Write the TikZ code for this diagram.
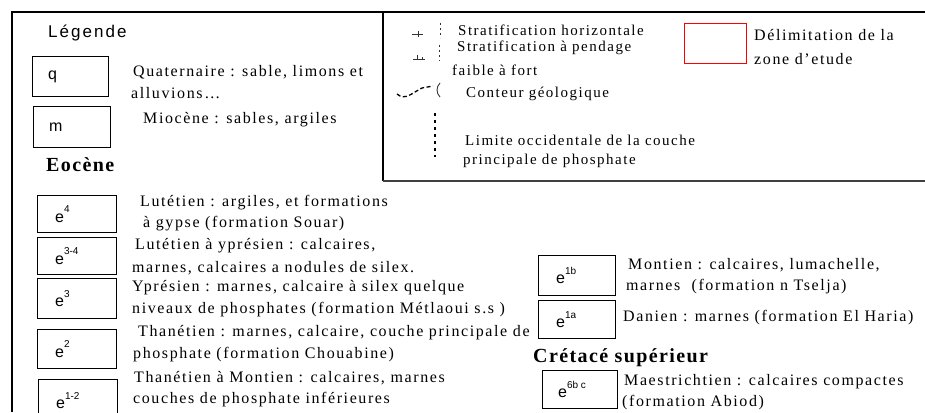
\documentclass[tikz,border=0pt]{standalone}
\usepackage{fontspec}
\setmainfont{Liberation Serif}
\newfontfamily\legserif[LetterSpace=10]{Liberation Serif}
\newfontfamily\legbold[LetterSpace=7]{Liberation Serif}
\newfontfamily\legsans[LetterSpace=12]{Liberation Sans}
\newfontfamily\boxsans{Liberation Sans}
\newcommand{\unitsup}[2]{#1\raisebox{0.6em}{\fontsize{10}{10}\selectfont #2}}
\begin{document}
\begin{tikzpicture}[x=1pt,y=-1pt,
  txt/.style={anchor=west, inner sep=0pt, font=\legserif\fontsize{16}{18}\selectfont},
  smalltxt/.style={anchor=west, inner sep=0pt, font=\legserif\fontsize{15}{17}\selectfont},
  head/.style={anchor=west, inner sep=0pt, font=\legbold\bfseries\fontsize{20}{22}\selectfont},
  unitbox/.style={draw, line width=1pt, anchor=north west, inner sep=0pt},
  unitlbl/.style={anchor=west, inner sep=0pt, font=\boxsans\fontsize{16}{17}\selectfont},
  frame/.style={line width=2pt, black},
  symb/.style={line width=0.9pt, black!80}]
\useasboundingbox (0,0) rectangle (925,412);
\fill[white] (0,0) rectangle (925,412);

% outer frame and framed symbol panel
\draw[frame] (12,412) -- (12,12) -- (925,12);
\draw[line width=1.6pt, black] (383,12) -- (383,181);
\draw[line width=2pt, black!75] (383,181) -- (925,181);

% heading and young units
\node[anchor=west, inner sep=0pt, font=\legsans\fontsize{17}{18}\selectfont] (leg) at (48,33) {Légende};

\node[unitbox, minimum width=76pt, minimum height=40pt] (bq) at (32,56) {};
\node[unitlbl] (lq) at ([xshift=16pt]bq.west) {q};
\node[txt] (tq1) at (133,72) {Quaternaire : sable, limons et};
\node[txt] (tq2) at (131,93) {alluvions…};

\node[unitbox, minimum width=77pt, minimum height=41pt] (bm) at (33,106) {};
\node[unitlbl] (lm) at ([xshift=16pt]bm.west) {m};
\node[txt] (tm) at (143,120) {Miocène : sables, argiles};

\node[head] (heo) at (46,165) {Eocène};

% Eocene units
\node[unitbox, minimum width=79pt, minimum height=37pt] (b4) at (37,195) {};
\node[unitlbl] (l4) at ([xshift=18pt]b4.west) {\unitsup{e}{4}};
\node[unitbox, minimum width=79pt, minimum height=37pt] (b34) at (37,237) {};
\node[unitlbl] (l34) at ([xshift=18pt]b34.west) {\unitsup{e}{3-4}};
\node[unitbox, minimum width=79pt, minimum height=40pt] (b3) at (37,278) {};
\node[unitlbl] (l3) at ([xshift=18pt]b3.west) {\unitsup{e}{3}};
\node[unitbox, minimum width=79pt, minimum height=39pt] (b2) at (37,329) {};
\node[unitlbl] (l2) at ([xshift=18pt]b2.west) {\unitsup{e}{2}};
\node[unitbox, minimum width=79pt, minimum height=42pt] (b12) at (38,379) {};
\node[unitlbl] (l12) at ([xshift=18pt]b12.west) {\unitsup{e}{1-2}};

\node[txt] (t41) at (140,203) {Lutétien : argiles, et formations};
\node[txt] (t42) at (143,224) {à gypse (formation Souar)};
\node[txt] (t341) at (135,246) {Lutétien à yprésien : calcaires,};
\node[txt] (t342) at (132,268) {marnes, calcaires a nodules de silex.};
\node[txt] (t31) at (132,288) {Yprésien : marnes, calcaire à silex quelque};
\node[txt] (t32) at (132,310) {niveaux de phosphates (formation Métlaoui s.s )};
\node[txt] (t21) at (138,333) {Thanétien : marnes, calcaire, couche principale de};
\node[txt] (t22) at (133,355) {phosphate (formation Chouabine)};
\node[txt] (t121) at (134,378) {Thanétien à Montien : calcaires, marnes};
\node[txt] (t122) at (133,400) {couches de phosphate inférieures};

% Paleocene and Upper Cretaceous units
\node[unitbox, minimum width=77pt, minimum height=40pt] (b1b) at (538,255) {};
\node[unitlbl] (l1b) at ([xshift=18pt]b1b.west) {\unitsup{e}{1b}};
\node[txt] (t1b1) at (628,265) {Montien : calcaires, lumachelle,};
\node[txt] (t1b2) at (626,287) {marnes \ (formation n Tselja)};

\node[unitbox, minimum width=77pt, minimum height=38pt] (b1a) at (538,300) {};
\node[unitlbl] (l1a) at ([xshift=18pt]b1a.west) {\unitsup{e}{1a}};
\node[txt] (t1a) at (623,318) {Danien : marnes (formation El Haria)};

\node[head] (hcr) at (533,358) {Crétacé supérieur};
\node[unitbox, minimum width=75pt, minimum height=38pt] (b6) at (542,370) {};
\node[unitlbl] (l6) at ([xshift=16pt]b6.west) {\unitsup{e}{6b c}};
\node[txt] (t61) at (624,382) {Maestrichtien : calcaires compactes};
\node[txt] (t62) at (622,403) {(formation Abiod)};

% map symbols
\draw[symb] (412,34) -- (423,34);
\draw[symb] (418,31) -- (418,37);
\draw[symb, dash pattern=on 2pt off 3pt] (440,23) -- (440,38);
\node[smalltxt] (ts1) at (458,30) {Stratification horizontale};

\draw[symb] (413,59) -- (425,59);
\draw[symb] (417,55) -- (417,59);
\draw[symb] (422,57) -- (422,59);
\draw[symb, dash pattern=on 2pt off 3pt] (439,45) -- (439,61);
\node[smalltxt] (ts2) at (457,48) {Stratification à pendage};
\node[smalltxt] (ts3) at (452,70) {faible à fort};

\draw[line width=1.3pt, dash pattern=on 4pt off 2.5pt] (397,94) .. controls (405,101) and (412,93) .. (422,88) -- (433,86);
\draw[symb] (440,83) .. controls (436,87) and (436,93) .. (440,97);
\node[smalltxt] (ts4) at (466,94) {Conteur géologique};

\draw[line width=1.8pt, dash pattern=on 3pt off 4pt] (435,113) -- (435,157);
\node[smalltxt] (ts5) at (465,140) {Limite occidentale de la couche};
\node[smalltxt] (ts6) at (463,161) {principale de phosphate};

\node[draw=red, line width=1.2pt, anchor=north west, inner sep=0pt, minimum width=62pt, minimum height=40pt] (zone) at (684,23) {};
\node[txt] (tz1) at (754,35) {Délimitation de la};
\node[txt] (tz2) at (754,59) {zone d’etude};
\end{tikzpicture}
\end{document}
